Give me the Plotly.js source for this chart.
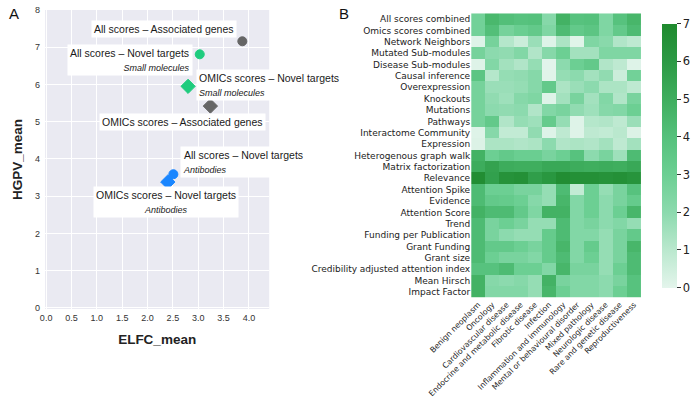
<!DOCTYPE html>
<html><head><meta charset="utf-8">
<script src="https://cdn.plot.ly/plotly-3.0.1.min.js"></script>
<style>html,body{margin:0;padding:0;background:#fff}#chart{width:700px;height:404px}</style>
</head><body><div id="chart"></div>
<script>
// ---- Panel A data ----
const pointNames = ["All scores \u2013 Associated genes", "All scores \u2013 Novel targets", "OMICs scores \u2013 Novel targets",
                    "OMICs scores \u2013 Associated genes", "All scores \u2013 Novel targets", "OMICs scores \u2013 Novel targets"];
const pointSub = ["", "Small molecules", "Small molecules", "", "Antibodies", "Antibodies"];
const elfcMean = [3.87, 3.03, 2.80, 3.24, 2.51, 2.40];
const hgpvMean = [7.16, 6.81, 5.95, 5.42, 3.59, 3.38];
const pointColors = ["#666666", "#1fcc7e", "#1fcc7e", "#666666", "#1a86ff", "#1a86ff"];
const pointSymbols = ["circle", "circle", "diamond", "diamond", "circle", "diamond"];
const xTicksA = [0, 0.5, 1, 1.5, 2, 2.5, 3, 3.5, 4];
const yTicksA = [0, 1, 2, 3, 4, 5, 6, 7, 8];

// ---- Panel B data ----
const diseases = ["Benign neoplasm", "Oncology", "Cardiovascular disease", "Endocrine and metabolic disease",
  "Fibrotic disease", "Infection", "Inflammation and immunology", "Mental or behavioural disorder",
  "Mixed pathology", "Neurologic disease", "Rare and genetic disease", "Reproductiveness"];
const scores = ["All scores combined", "Omics scores combined", "Network Neighbors", "Mutated Sub-modules",
  "Disease Sub-modules", "Causal inference", "Overexpression", "Knockouts", "Mutations", "Pathways",
  "Interactome Community", "Expression", "Heterogenous graph walk", "Matrix factorization", "Relevance",
  "Attention Spike", "Evidence", "Attention Score", "Trend", "Funding per Publication", "Grant Funding",
  "Grant size", "Credibility adjusted attention index", "Mean Hirsch", "Impact Factor"];
const allScoresCombined   = [2.8,4.5,4.1,3.9,4.0,2.2,4.8,3.9,4.0,2.4,3.9,4.6];
const omicsScoresCombined = [2.8,4.1,2.7,3.1,3.4,2.4,4.3,3.4,3.7,2.4,3.4,4.3];
const networkNeighbors    = [0.15,2.7,1.1,0.6,1.7,0.15,1.3,0.1,2.4,2.1,1.2,0.9];
const mutatedSubmodules   = [2.7,2.0,1.9,2.3,1.2,2.2,3.0,1.5,1.5,2.4,2.4,2.4];
const diseaseSubmodules   = [0.15,2.3,1.5,1.2,1.8,0.05,2.0,3.0,3.4,1.2,0.9,0.15];
const causalInference     = [3.7,1.1,1.8,1.9,2.2,0.1,1.8,2.0,1.5,1.9,0.6,2.8];
const overexpression      = [2.7,1.7,1.7,1.8,2.2,3.4,1.3,1.7,2.0,1.3,1.3,0.9];
const knockouts           = [2.7,1.9,1.6,2.2,2.4,0.15,1.5,2.6,1.5,2.3,1.2,2.6];
const mutations           = [2.7,2.0,1.9,2.0,1.2,2.3,2.6,1.9,1.6,2.2,2.3,3.0];
const pathways            = [2.7,3.4,1.2,1.8,1.6,3.3,1.8,0.15,1.1,1.2,0.9,1.7];
const interactomeCommunity= [0.15,2.2,0.8,0.8,1.9,0.15,0.9,0.15,0.9,0.8,1.0,0.2];
const expression          = [0.2,1.3,1.3,1.2,1.3,2.0,1.2,1.3,1.2,1.5,0.9,1.5];
const heterogenousWalk    = [4.8,3.0,3.4,3.1,3.1,2.6,3.0,3.9,2.0,2.6,1.6,4.3];
const matrixFactorization = [5.1,5.6,5.1,5.0,5.0,5.3,5.3,5.1,5.0,5.1,5.0,5.3];
const relevance           = [6.8,5.7,6.5,6.6,5.8,6.2,6.8,6.6,6.6,6.5,6.6,6.4];
const attentionSpike      = [4.3,3.0,3.0,2.6,2.6,1.8,4.3,0.8,3.0,1.8,2.6,3.9];
const evidence            = [4.3,3.4,3.3,3.0,2.2,1.8,4.6,2.3,3.0,2.0,2.6,3.3];
const attentionScore      = [4.8,4.3,4.3,3.4,2.4,4.8,4.8,2.3,3.0,2.0,3.0,4.6];
const trend               = [4.3,2.6,3.0,2.6,1.8,1.8,4.3,2.3,2.6,2.0,2.3,1.8];
const fundingPerPub       = [4.3,2.6,2.0,1.8,1.8,3.3,4.3,2.3,2.3,1.8,2.6,3.4];
const grantFunding        = [4.3,3.4,3.4,3.0,2.6,3.3,4.6,2.3,3.3,1.8,2.6,4.6];
const grantSize           = [4.3,3.0,2.6,2.6,2.3,3.3,4.3,2.3,3.0,1.8,2.6,4.3];
const credibilityIndex    = [3.9,3.9,4.3,3.0,3.0,2.3,4.6,2.6,2.6,1.8,3.0,4.3];
const meanHirsch          = [4.8,2.2,2.0,2.2,1.8,4.8,2.6,2.3,2.3,2.0,2.6,3.9];
const impactFactor        = [4.8,2.3,2.3,2.3,1.8,4.6,3.0,2.3,2.3,2.0,3.0,3.9];
const cbTicks = [0,1,2,3,4,5,6,7];

const zMatrix = [allScoresCombined, omicsScoresCombined, networkNeighbors, mutatedSubmodules, diseaseSubmodules,
  causalInference, overexpression, knockouts, mutations, pathways, interactomeCommunity, expression,
  heterogenousWalk, matrixFactorization, relevance, attentionSpike, evidence, attentionScore, trend,
  fundingPerPub, grantFunding, grantSize, credibilityIndex, meanHirsch, impactFactor];

const ARIAL = "Liberation Sans, Arial, sans-serif";
const DEJAVU = "DejaVu Sans, sans-serif";

// label offsets (pixels) relative to each point, and text alignment
const labelOffsets = [[-78,-12],[-70,6],[81,-1],[-28,16],[70,-12],[-2,20]];
const labelAlign = ["center","right","left","center","left","center"];

const annotations = pointNames.map((n,i)=>({
  x: elfcMean[i], y: hgpvMean[i], xref:'x', yref:'y',
  text: pointSub[i] ? n + '<br><i><span style="font-size:9px">' + pointSub[i] + '</span></i>' : n,
  showarrow: true, arrowcolor: 'rgba(0,0,0,0)', arrowwidth: 0.1, arrowhead: 0,
  ax: labelOffsets[i][0], ay: labelOffsets[i][1], axref:'pixel', ayref:'pixel',
  align: labelAlign[i], bgcolor: '#ffffff', borderpad: 2,
  font: {family: ARIAL, size: 10.5, color: '#1a1a1a'}
}));
annotations.push({text:'A', x:14, y:13, xref:'paper', yref:'paper', showarrow:false, font:{family:ARIAL,size:15,color:'#111'}});
annotations.push({text:'B', x:348, y:13, xref:'paper', yref:'paper', showarrow:false, font:{family:ARIAL,size:15,color:'#111'}});
annotations.slice(-2).forEach(a=>{a.x = a.x/700; a.y = 1 - a.y/404; a.xanchor='center'; a.yanchor='middle';});

const traces = [
  {type:'heatmap', x: diseases, y: scores, z: zMatrix, xaxis:'x2', yaxis:'y2', zmin:0, zmax:7,
   colorscale:[[0,'#e4f5ec'],[1/7,'#bae8ce'],[2/7,'#8cdaae'],[3/7,'#6ccf93'],[4/7,'#55c17c'],[5/7,'#3fae5e'],[6/7,'#2c9a45'],[1,'#1f8a2e']],
   colorbar:{x:660/700, xanchor:'left', y:1-297.7/404, yanchor:'bottom', len:(297.7-13.3)/404, lenmode:'fraction',
     thickness:15, thicknessmode:'pixels', outlinewidth:0, tickvals: cbTicks, ticks:'outside', ticklen:4, tickcolor:'#333',
     tickfont:{family:DEJAVU, size:11.5, color:'#222'}},
   hoverinfo:'none'},
  {type:'scatter', mode:'markers', x: elfcMean, y: hgpvMean, xaxis:'x', yaxis:'y', opacity:1,
   marker:{color: pointColors, opacity:1, symbol: pointSymbols, size: pointSymbols.map(s=> s==='diamond'?11:9),
           line:{width:1, color: pointColors}},
   hoverinfo:'none', showlegend:false}
];

const layout = {
  width:700, height:404, margin:{l:0,r:0,t:0,b:0}, paper_bgcolor:'#ffffff', plot_bgcolor:'#ffffff',
  showlegend:false,
  xaxis:{domain:[45.7/700, 272.7/700], range:[-0.02, 4.40], tickvals:xTicksA, tickformat:'.1f',
    showgrid:true, gridcolor:'#ffffff', gridwidth:1, zeroline:false, showline:false, ticks:'',
    tickfont:{family:ARIAL, size:9, color:'#333'}, ticklabelstandoff:2,
    title:{text:'<b>ELFC_mean</b>', font:{family:ARIAL, size:13.5, color:'#222'}, standoff:12}},
  yaxis:{domain:[1-309/404, 1-10/404], range:[-0.03, 8.0], tickvals:yTicksA,
    showgrid:true, gridcolor:'#ffffff', gridwidth:1, zeroline:false, showline:false, ticks:'',
    tickfont:{family:ARIAL, size:9, color:'#333'}, ticklabelstandoff:4,
    title:{text:'<b>HGPV_mean</b>', font:{family:ARIAL, size:13.5, color:'#222'}, standoff:9}},
  xaxis2:{domain:[477.3/700, 649.3/700], anchor:'y2', tickangle:-45, ticks:'', showgrid:false, zeroline:false,
    tickfont:{family:DEJAVU, size:7.8, color:'#222'}},
  yaxis2:{domain:[1-297.7/404, 1-13.3/404], anchor:'x2', autorange:'reversed', ticks:'', showgrid:false, zeroline:false,
    tickfont:{family:DEJAVU, size:9, color:'#222'}},
  annotations: annotations,
  shapes:[{type:'rect', xref:'x domain', yref:'y domain', x0:0, x1:1, y0:0, y1:1, fillcolor:'#eaeaf2', line:{width:0}, layer:'below'}]
};

Plotly.newPlot('chart', traces, layout, {staticPlot:true, displayModeBar:false});
</script></body></html>
